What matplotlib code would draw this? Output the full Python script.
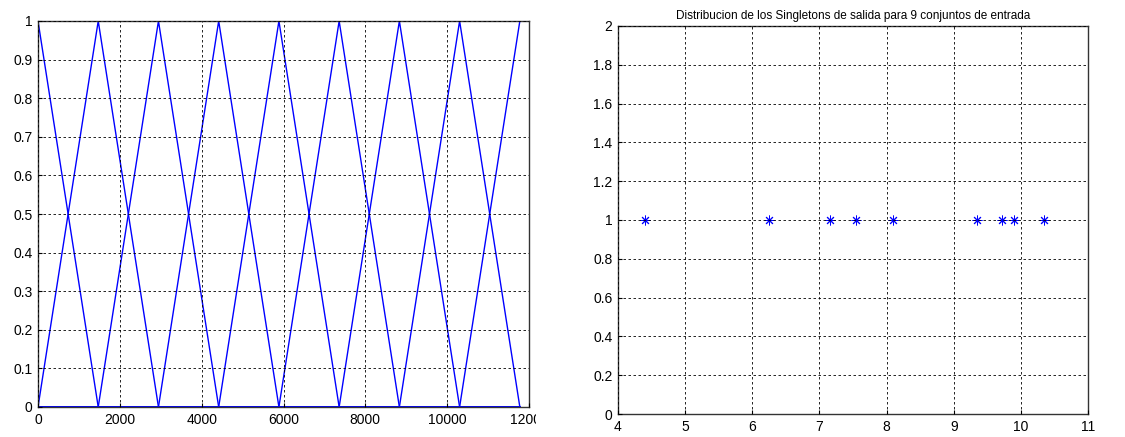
import numpy as np
import matplotlib
matplotlib.use("Agg")
import matplotlib.pyplot as plt
from matplotlib.ticker import FuncFormatter
from matplotlib.transforms import Bbox, TransformedBbox

plt.rcParams['font.family'] = ['Liberation Sans', 'DejaVu Sans']

# centros de los 9 conjuntos de entrada (triangulares)
centros = [0, 1472, 2944, 4416, 5888, 7360, 8832, 10304, 11776]
# singletons de salida
singletons = [4.4, 6.25, 7.15, 7.55, 8.1, 9.35, 9.72, 9.9, 10.35]
alturas = [1, 1, 1, 1, 1, 1, 1, 1, 1]

fig = plt.figure(figsize=(11.25, 4.37), dpi=100)
W, H = 1125, 437

def estilo(ax):
    ax.grid(True, color='black', linestyle=(0, (3, 3)), linewidth=0.6)
    ax.set_axisbelow(False)
    ax.tick_params(direction='in', length=3, labelsize=10, colors='black', pad=4)
    for s in ax.spines.values():
        s.set_color('#333333')
        s.set_linewidth(1.0)

fmt = FuncFormatter(lambda v, p: '%g' % round(v, 6))

# funciones de pertenencia
ax1 = fig.add_axes([38 / W, 1 - 407 / H, (529 - 38) / W, (407 - 21) / H])
x = np.array(centros, dtype=float)
for i, c in enumerate(centros):
    y = np.zeros(len(centros))
    y[i] = 1
    ax1.plot(x, y, color='blue', linewidth=1.0)
ax1.set_xlim(0, 12000)
ax1.set_ylim(0, 1)
ax1.set_xticks(np.arange(0, 12001, 2000))
ax1.set_yticks(np.arange(0, 1.01, 0.1))
ax1.yaxis.set_major_formatter(fmt)
estilo(ax1)
clip = TransformedBbox(Bbox([[0, 0], [536 / W, 1]]), fig.transFigure)
for lbl in ax1.get_xticklabels():
    lbl.set_clip_on(True)
    lbl.set_clip_box(clip)

# singletons de salida
ax2 = fig.add_axes([618 / W, 1 - 414 / H, (1088 - 618) / W, (414 - 26) / H])
ax2.plot(singletons, alturas, linestyle='none', marker=(8, 2, 0), color='blue',
         markersize=7, markeredgewidth=0.7)
ax2.set_xlim(4, 11)
ax2.set_ylim(0, 2)
ax2.set_xticks(np.arange(4, 11.01, 1))
ax2.set_yticks(np.arange(0, 2.01, 0.2))
ax2.yaxis.set_major_formatter(fmt)
estilo(ax2)
ax2.set_title('Distribucion de los Singletons de salida para 9 conjuntos de entrada',
              fontsize=8.5, pad=5)

fig.savefig('out.png', dpi=100)
